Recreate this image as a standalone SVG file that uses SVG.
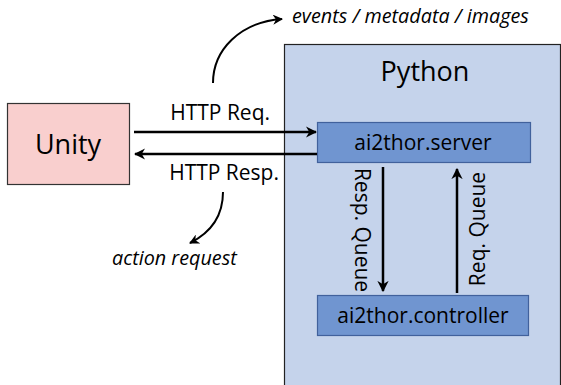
<svg xmlns="http://www.w3.org/2000/svg" width="561" height="385" viewBox="0 0 561 385">
<defs>
<style>
text{font-family:"Open Sans","Liberation Sans",sans-serif;fill:#000}
.lbl{font-size:21px}
.big{font-size:27px}
.it{font-style:italic;font-size:19.8px}
.ln{stroke:#000;stroke-width:2.5;fill:none}
.thin{stroke:#000;stroke-width:2;fill:none}
</style>
<marker id="ah" viewBox="0 0 10 10" refX="9" refY="5" markerWidth="4.5" markerHeight="4.5" markerUnits="strokeWidth" orient="auto">
<path d="M0,0 L10,5 L0,10 L3,5 Z" fill="#000"/>
</marker>
<marker id="ahs" viewBox="0 0 10 10" refX="9" refY="5" markerWidth="5" markerHeight="5" markerUnits="strokeWidth" orient="auto">
<path d="M0,0 L10,5 L0,10 L3,5 Z" fill="#000"/>
</marker>
</defs>
<rect width="561" height="385" fill="#fff"/>
<g id="python">
<rect x="284.5" y="44.5" width="276" height="345" fill="#C5D3EB" stroke="#222" stroke-width="1.2"/>
<text x="425" y="81" class="big" text-anchor="middle">Python</text>
</g>
<g id="unity">
<rect x="7.5" y="103.5" width="122" height="81" fill="#F9CFCE" stroke="#333" stroke-width="1.2"/>
<text x="68" y="154" class="big" text-anchor="middle">Unity</text>
</g>
<g id="server">
<rect x="317.5" y="122.5" width="213" height="40" fill="#7095D0" stroke="#41619C" stroke-width="1.2"/>
<text x="423" y="150" class="lbl" text-anchor="middle">ai2thor.server</text>
</g>
<g id="controller">
<rect x="317.5" y="295.5" width="211" height="40" fill="#7095D0" stroke="#41619C" stroke-width="1.2"/>
<text x="423" y="323" class="lbl" text-anchor="middle">ai2thor.controller</text>
</g>
<g id="connectors">
<line x1="134" y1="132" x2="316" y2="132" class="ln" marker-end="url(#ah)"/>
<line x1="317" y1="154" x2="135" y2="154" class="ln" marker-end="url(#ah)"/>
<line x1="383" y1="167" x2="383" y2="291" class="ln" marker-end="url(#ah)"/>
<line x1="457" y1="293" x2="457" y2="169" class="ln" marker-end="url(#ah)"/>
<path d="M213,83 C213,50 240,22 282,19" class="thin" marker-end="url(#ahs)"/>
<path d="M223,192 C223,215 212,232 190,243" class="thin" marker-end="url(#ahs)"/>
</g>
<g id="labels">
<text x="270" y="120" class="lbl" text-anchor="end">HTTP Req.</text>
<text x="279" y="180" class="lbl" text-anchor="end">HTTP Resp.</text>
<text x="292" y="23" class="it">events / metadata / images</text>
<text x="112" y="265" class="it">action request</text>
<text transform="translate(363,230) rotate(90)" class="lbl" text-anchor="middle" dominant-baseline="central">Resp. Queue</text>
<text transform="translate(477,229) rotate(-90)" class="lbl" text-anchor="middle" dominant-baseline="central">Req. Queue</text>
</g>
</svg>
